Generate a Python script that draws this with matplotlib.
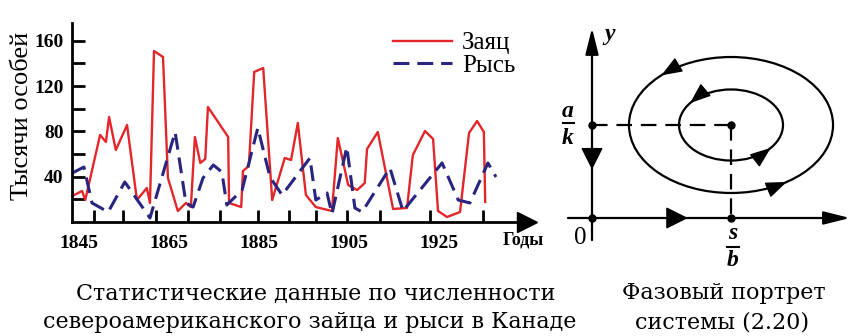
import numpy as np
import matplotlib
matplotlib.use("Agg")
import matplotlib.pyplot as plt
from matplotlib.patches import Ellipse

plt.rcParams['font.family'] = ['Liberation Serif', 'DejaVu Serif']

# --- data (thousands of animals) ---
hare_years = [1843.4, 1845.6, 1846.3, 1849.6, 1850.9, 1851.6, 1853.1, 1855.6, 1857.8,
              1860.0, 1860.7, 1861.6, 1863.6, 1864.7, 1866.9, 1868.7, 1869.8, 1870.7,
              1871.9, 1873.0, 1873.6, 1878.1, 1878.3, 1881.0, 1881.4, 1882.7, 1883.9,
              1885.9, 1887.9, 1890.7, 1892.1, 1893.6, 1895.4, 1897.6, 1901.2, 1902.5,
              1904.8, 1906.8, 1908.5, 1909.0, 1911.4, 1914.8, 1917.9, 1919.2, 1921.9,
              1923.7, 1924.8, 1926.8, 1929.7, 1931.7, 1933.5, 1935.0, 1935.3]
hare = [22.9, 27.4, 19.4, 76.8, 70.6, 92.7, 63.5, 85.6, 19.4,
        30.0, 16.8, 150.9, 145.6, 38.8, 9.7, 16.8, 13.2, 75.0,
        52.1, 55.6, 101.5, 75.0, 16.8, 13.2, 45.0, 49.4, 132.4,
        135.9, 19.4, 56.5, 54.7, 87.4, 23.8, 13.2, 9.7, 74.1,
        32.7, 28.2, 34.4, 64.4, 79.4, 11.5, 12.4, 59.1, 80.3,
        73.3, 9.7, 4.4, 8.8, 78.6, 89.1, 79.4, 17.7]
lynx_years = [1843.4, 1846.0, 1847.8, 1851.4, 1855.1, 1860.7, 1866.3, 1868.7, 1870.3,
              1872.5, 1874.8, 1876.7, 1877.8, 1881.2, 1884.7, 1887.4, 1890.1, 1896.3,
              1897.6, 1899.0, 1900.1, 1901.2, 1904.5, 1906.3, 1907.9, 1914.1, 1917.0,
              1925.7, 1929.3, 1931.9, 1935.9, 1937.7]
lynx = [43.2, 48.5, 16.8, 8.8, 35.3, 3.5, 79.4, 16.8, 13.2,
        38.8, 50.3, 44.1, 15.0, 28.2, 83.0, 39.7, 23.8, 56.5,
        19.4, 22.9, 25.6, 7.1, 66.2, 12.4, 8.8, 47.7, 9.7,
        52.1, 19.4, 16.8, 52.1, 39.7]

year_labels = [1845, 1865, 1885, 1905, 1925]
year_marks = [1848.2, 1854.7, 1862.0, 1869.2, 1876.3, 1884.7, 1891.6, 1897.7,
              1904.5, 1911.9, 1923.1, 1934.9]
count_labels = [40, 80, 120, 160]
count_marks = [20, 60, 100, 140]

# phase portrait: equilibrium (s/b, a/k) taken as (1, 1)
orbit_half_x = [0.734, 0.374]
orbit_half_y = [0.731, 0.382]
orbit_arrow_deg = [[128, 298], [132, 310]]
axis_arrow_pos = 0.62

W, H = 851, 336
fig = plt.figure(figsize=(W / 100, H / 100), dpi=100)


def fx(px):
    return px / W


def fy(py):
    return 1 - py / H


red = '#e3262a'
blue = '#29247f'

# ---------------- left: time series ----------------
ax = fig.add_axes([fx(72), fy(222), (527 - 72) / W, (222 - 23) / H])
ax.plot(hare_years, hare, color=red, lw=1.7, label='Заяц', clip_on=False)
ax.plot(lynx_years, lynx, color=blue, lw=2.2, dashes=(5.2, 2.6), label='Рысь',
        clip_on=False)
ax.set_xlim(1843.35, 1944.6)
ax.set_ylim(0, 175.6)

for side in ['top', 'right']:
    ax.spines[side].set_visible(False)
for side in ['left', 'bottom']:
    ax.spines[side].set_linewidth(2)
ax.plot(1, 0, '>k', ms=14, transform=ax.get_yaxis_transform(), clip_on=False)
ax.plot(0, 1, '^k', ms=13, transform=ax.get_xaxis_transform(), clip_on=False)

ax.set_yticks(count_labels)
ax.set_yticks(count_marks, minor=True)
ax.set_xticks(year_labels)
ax.set_xticks(year_marks, minor=True)
ax.tick_params(axis='y', which='both', direction='in', length=9, width=2, pad=6,
               labelsize=14)
ax.tick_params(axis='x', which='major', length=0, pad=9, labelsize=14)
ax.tick_params(axis='x', which='minor', direction='in', length=9, width=2)
for lab in ax.get_xticklabels() + ax.get_yticklabels():
    lab.set_fontweight('bold')

ax.legend(loc='upper left', bbox_to_anchor=(fx(393), fy(32)),
          bbox_transform=fig.transFigure, frameon=False, fontsize=18,
          handlelength=2.36, handletextpad=0.4, labelspacing=0.0,
          borderpad=0, borderaxespad=0)

fig.text(fx(22), fy(116), 'Тысячи особей', rotation=90, ha='center', va='center',
         fontsize=19)
fig.text(fx(523), fy(240), 'Годы', ha='center', va='center', fontsize=13,
         fontweight='bold')

# ---------------- right: phase portrait ----------------
ax2 = fig.add_axes([fx(560), fy(275), (851 - 560) / W, (275 - 20) / H])
ax2.set_xlim((560 - 592) / 139, (851 - 592) / 139)
ax2.set_ylim((218 - 275) / 93, (218 - 20) / 93)
ax2.axis('off')

ax_arrow = dict(arrowstyle='-|>,head_length=1.6,head_width=0.4', color='k', lw=1.6,
                shrinkA=0, shrinkB=0)
ax2.annotate('', xy=(0, 2.043), xytext=(0, -0.237), arrowprops=ax_arrow,
             annotation_clip=False)
ax2.annotate('', xy=(1.856, 0), xytext=(-0.173, 0), arrowprops=ax_arrow,
             annotation_clip=False)

big_head = dict(arrowstyle='-|>,head_length=1.4,head_width=0.7', color='k', lw=1,
                shrinkA=0, shrinkB=0)
ax2.annotate('', xy=(0, axis_arrow_pos - 0.1), xytext=(0, axis_arrow_pos + 0.1),
             arrowprops=big_head)
ax2.annotate('', xy=(axis_arrow_pos + 0.07, 0), xytext=(axis_arrow_pos - 0.07, 0),
             arrowprops=big_head)

ax2.plot([0, 1], [1, 1], color='k', lw=1.6, dashes=(7, 4))
ax2.plot([1, 1], [1, 0], color='k', lw=1.6, dashes=(7, 4))

orbit_head = dict(arrowstyle='-|>,head_length=1.3,head_width=0.5', color='k', lw=1,
                  shrinkA=0, shrinkB=0)
for hx, hy, degs in zip(orbit_half_x, orbit_half_y, orbit_arrow_deg):
    ax2.add_patch(Ellipse((1, 1), 2 * hx, 2 * hy, fill=False, color='k', lw=1.6))
    span = 9.0 / (hx * 139)  # ~half head length in radians
    for d in degs:
        t = np.radians(d)
        tip = (1 + hx * np.cos(t + span), 1 + hy * np.sin(t + span))
        tail = (1 + hx * np.cos(t + span - 0.03), 1 + hy * np.sin(t + span - 0.03))
        ax2.annotate('', xy=tip, xytext=tail, arrowprops=orbit_head)

ax2.plot([0, 0, 1, 1], [0, 1, 0, 1], 'o', color='k', ms=5)

ax2.text(0.129, 1.968, 'y', fontsize=17, fontweight='bold', fontstyle='italic',
         ha='center', va='center')
ax2.text(-0.086, -0.215, '0', fontsize=18, ha='center', va='center')
ax2.text(1.90, -0.215, 'z', fontsize=17, fontweight='bold', fontstyle='italic',
         ha='center', va='center', clip_on=False)
fx_lab = dict(fontsize=17, fontweight='bold', fontstyle='italic', ha='center',
              va='center')
ax2.text(-0.173, 1.14, 'a', **fx_lab)
ax2.plot([-0.21, -0.13], [1.02, 1.02], color='k', lw=1.5, clip_on=False)
ax2.text(-0.173, 0.85, 'k', **fx_lab)
ax2.text(1.01, -0.17, 's', **fx_lab)
ax2.plot([0.97, 1.06], [-0.31, -0.31], color='k', lw=1.5)
ax2.text(1.01, -0.46, 'b', **fx_lab)

# ---------------- captions ----------------
cap = dict(fontsize=16, family='DejaVu Serif', ha='center', va='center')
fig.text(fx(316), fy(293), 'Статистические данные по численности', **cap)
fig.text(fx(310), fy(322), 'североамериканского зайца и рыси в Канаде', **cap)
fig.text(fx(724), fy(293), 'Фазовый портрет', **cap)
fig.text(fx(722), fy(322), 'системы (2.20)', **cap)

fig.savefig('out.png', dpi=100)
